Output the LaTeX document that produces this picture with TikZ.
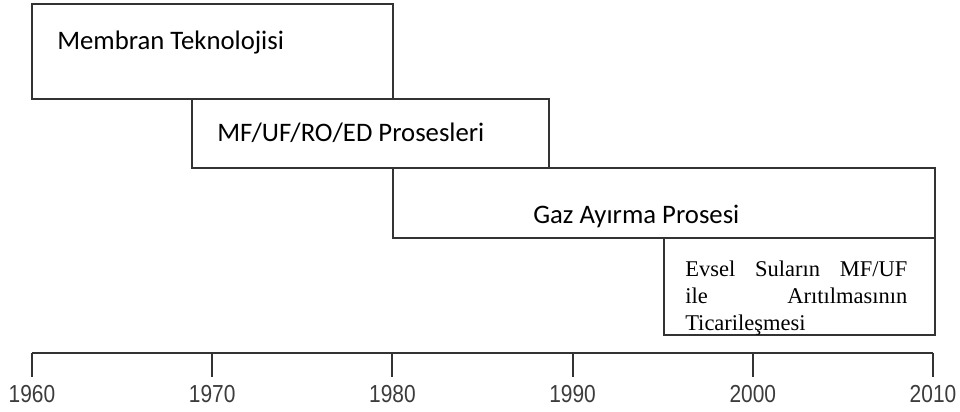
\documentclass[tikz,border=0pt]{standalone}
\usepackage{fontspec}
\setmainfont{Carlito}
\newfontfamily\timesfont{Liberation Serif}
\newfontfamily\axisfont{Liberation Sans}
\usepackage{graphicx}
\usepackage{tikz}
\definecolor{linegray}{HTML}{333333}
\definecolor{yeargray}{HTML}{3C3C3C}

\begin{document}
\begin{tikzpicture}[x=0.025cm,y=-0.025cm,
                    box/.style={draw=linegray,line width=1.5pt,line join=miter},
                    boxlabel/.style={anchor=base west,inner sep=0pt,
                                     font=\fontsize{19}{23}\selectfont},
                    yearlabel/.style={anchor=base,inner sep=0pt,text=yeargray,
                                      font=\axisfont\fontsize{17.5}{21}\selectfont}]
                              % Frame
                              \useasboundingbox (0,0) rectangle (960,412);

                              % Boxes
                              \draw[box] (32,4) rectangle (393,99);
                              \draw[box] (192,99) rectangle (549,168);
                              \draw[box] (393,168) rectangle (935,238);
                              \draw[box] (664,238) rectangle (935,335);

                              % Labels
                              \node[boxlabel] (membran) at (57,50) {Membran Teknolojisi};
                              \node[boxlabel] (proses) at (217,142) {MF/UF/RO/ED Prosesleri};
                              \node[boxlabel] (gaz) at (533,224) {Gaz Ayırma Prosesi};
                              \node[anchor=base west,inner sep=0pt,text width=5.55cm,align=left,
                                    font=\timesfont\fontsize{16}{19.1}\selectfont]
                                    (evsel) at (685,277)
                                    {Evsel\hfill Suların\hfill MF/UF\\
                                     ile\hfill Arıtılmasının\\
                                     Ticarileşmesi};

                              % Time axis
                              \draw[box] (32,353) -- (933,353);
                              \foreach \yr in {1960,1970,...,2010}{
                                    \draw[box] ({32+18.02*(\yr-1960)},353) -- ++(0,24);
                                    \node[yearlabel] (yr\yr) at ({32+18.02*(\yr-1960)},402)
                                          {\scalebox{0.85}[1]{\yr}};
                              }
                        \end{tikzpicture}
\end{document}
